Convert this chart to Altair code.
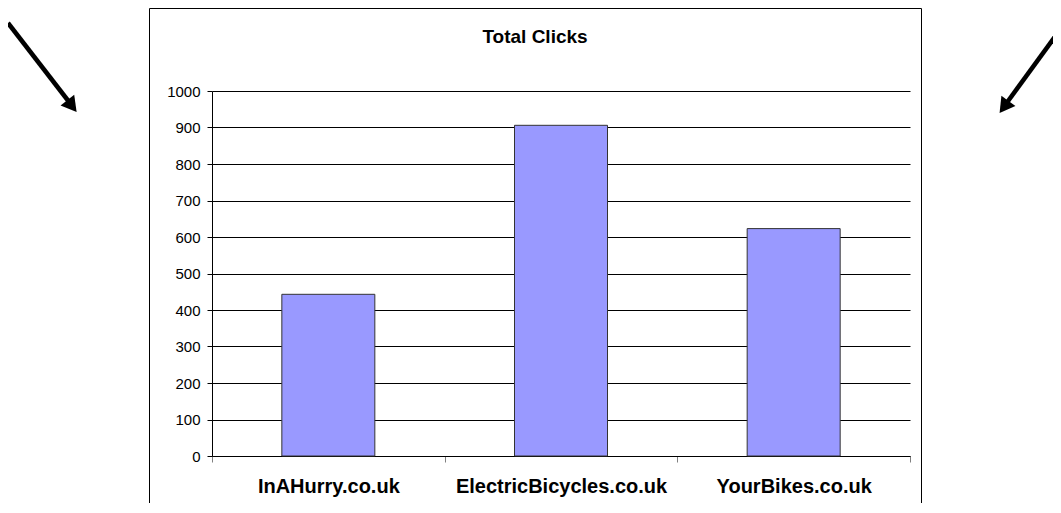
import altair as alt
import pandas as pd

# ---- data ----
sites = ["InAHurry.co.uk", "ElectricBicycles.co.uk", "YourBikes.co.uk"]
clicks = [443, 906, 623]
y_tick_values = [0, 100, 200, 300, 400, 500, 600, 700, 800, 900, 1000]
chart_title = "Total Clicks"

df = pd.DataFrame({"site": sites, "clicks": clicks})
one = pd.DataFrame({"k": [0]})

FONT = "Liberation Sans"

# outer chart-area frame
frame = alt.Chart(one).mark_rect(fillOpacity=0, stroke="black", strokeWidth=1).encode(
    x=alt.value(-62.5), x2=alt.value(709.5), y=alt.value(-82.5), y2=alt.value(440)
)

bars = alt.Chart(df).mark_bar(
    size=93, color="#9999FF", stroke="#333333", strokeWidth=1
).encode(
    x=alt.X(
        "site:N",
        sort=sites,
        title=None,
        scale=alt.Scale(paddingInner=0, paddingOuter=0),
        axis=alt.Axis(
            labelAngle=0,
            tickBand="extent",
            labelFontSize=20,
            labelFontWeight="bold",
            labelColor="black",
            labelFont=FONT,
            labelLimit=400,
            labelOverlap=False,
            domainColor="black",
            tickColor="#808080",
            tickSize=6,
            labelPadding=14,
            grid=False,
        ),
    ),
    y=alt.Y(
        "clicks:Q",
        title=None,
        scale=alt.Scale(domain=[0, 1000], nice=False),
        axis=alt.Axis(
            values=y_tick_values,
            format="d",
            grid=True,
            gridColor="black",
            gridOpacity=1,
            domainColor="black",
            tickColor="black",
            tickSize=5,
            labelPadding=7,
            labelFontSize=15,
            labelFont=FONT,
            labelColor="black",
        ),
    ),
)

title = alt.Chart(one).mark_text(
    text=chart_title, font=FONT, fontSize=19, fontWeight="bold", color="black",
    align="center", baseline="middle"
).encode(x=alt.value(323), y=alt.value(-54))

# decorative arrows
left_line = alt.Chart(one).mark_rule(color="black", strokeWidth=4.5, strokeCap="butt").encode(
    x=alt.value(-204), y=alt.value(-68), x2=alt.value(-139), y2=alt.value(16)
)
left_head = alt.Chart(one).mark_point(
    shape="triangle-down", filled=True, color="black", opacity=1, size=300, angle=322
).encode(x=alt.value(-140), y=alt.value(15))

right_line = alt.Chart(one).mark_rule(color="black", strokeWidth=4.5, strokeCap="butt").encode(
    x=alt.value(850), y=alt.value(-64), x2=alt.value(791), y2=alt.value(17)
)
right_head = alt.Chart(one).mark_point(
    shape="triangle-down", filled=True, color="black", opacity=1, size=300, angle=36
).encode(x=alt.value(792), y=alt.value(16))

chart = alt.layer(
    frame, bars, title, left_line, left_head, right_line, right_head
).properties(
    width=698,
    height=365,
    autosize=alt.AutoSizeParams(type="none"),
    padding={"left": 204, "top": 83, "right": 143, "bottom": 47},
    background="white",
).configure_view(strokeWidth=0)

chart.save("out.html", embed_options={"renderer": "svg", "actions": False})
